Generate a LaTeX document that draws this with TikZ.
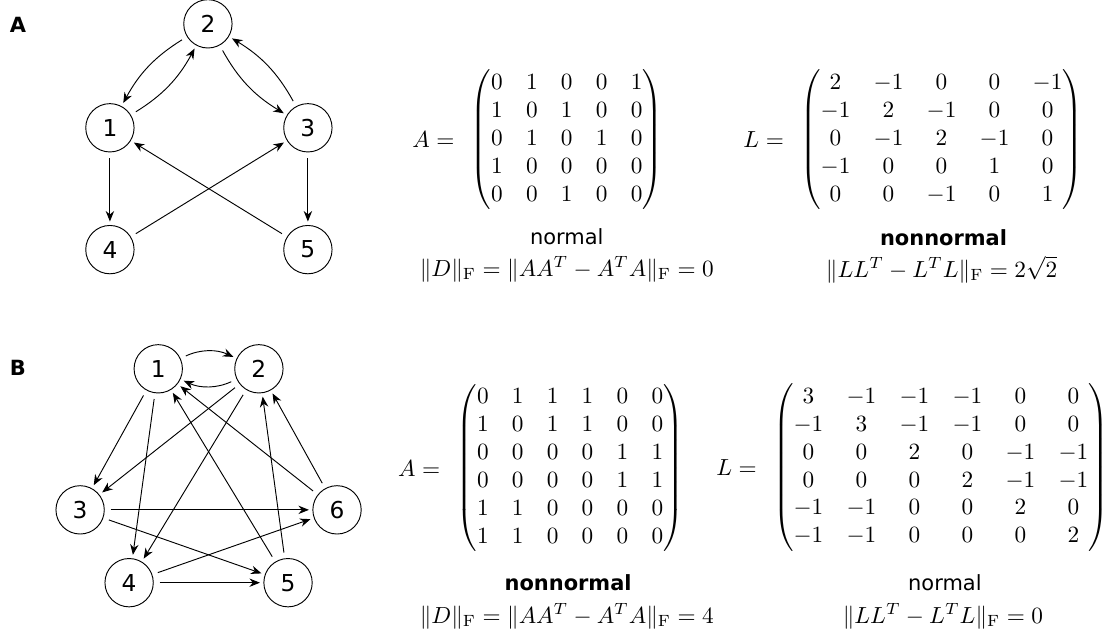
\documentclass[tikz,border=0pt]{standalone}
\usepackage{fontspec}
\usepackage{amsmath}
\newfontfamily\dejavu{DejaVu Sans}
\usetikzlibrary{positioning,arrows.meta}

\begin{document}
\begin{tikzpicture}[
  every node/.style={font=\dejavu},
  vertex/.style={draw, circle, minimum size=0.73cm, inner sep=0pt},
  arrow/.style={-{Stealth[length=4.5pt,width=3.6pt]}, shorten <=2.5pt, shorten >=1.5pt},
  panel/.style={font=\dejavu\bfseries\fontsize{9}{11}\selectfont},
  caption/.style={font=\dejavu\fontsize{9}{11}\selectfont},
  boldcaption/.style={font=\dejavu\bfseries\fontsize{9}{11}\selectfont}
]
\useasboundingbox (0,0) rectangle (16.9,9.57);

% panel A: graph
\node[panel] (labA) at (0.27,9.20) {A};
\node[vertex] (a1) at (1.66,7.64) {1};
\node[vertex] (a2) at (3.14,9.21) {2};
\node[vertex] (a3) at (4.65,7.64) {3};
\node[vertex] (a4) at (1.66,5.80) {4};
\node[vertex] (a5) at (4.65,5.80) {5};
\draw[arrow] (a2) to[bend right=15] (a1);
\draw[arrow] (a1) to[bend right=15] (a2);
\draw[arrow] (a2) to[bend right=15] (a3);
\draw[arrow] (a3) to[bend right=15] (a2);
\draw[arrow] (a1) -- (a4);
\draw[arrow] (a3) -- (a5);
\draw[arrow] (a4) -- (a3);
\draw[arrow] (a5) -- (a1);

% panel A: matrices
\node (adjA) at (8.56,7.46) {$\begin{pmatrix}
0&1&0&0&1\\ 1&0&1&0&0\\ 0&1&0&1&0\\ 1&0&0&0&0\\ 0&0&1&0&0
\end{pmatrix}$};
\node[left=0pt of adjA] (adjAeq) {$A =$};
\node[caption] (adjAnote) at (8.56,5.99) {normal};
\node (adjAnorm) at (8.56,5.50) {$\|D\|_{\mathrm{F}} = \|AA^T - A^TA\|_{\mathrm{F}} = 0$};

\node (lapA) at (14.22,7.46) {$\begin{pmatrix}
2&-1&0&0&-1\\ -1&2&-1&0&0\\ 0&-1&2&-1&0\\ -1&0&0&1&0\\ 0&0&-1&0&1
\end{pmatrix}$};
\node[left=0pt of lapA] (lapAeq) {$L =$};
\node[boldcaption] (lapAnote) at (14.25,5.98) {nonnormal};
\node (lapAnorm) at (14.22,5.50) {$\|LL^T - L^TL\|_{\mathrm{F}} = 2\sqrt{2}$};

% panel B: graph
\node[panel] (labB) at (0.27,4.02) {B};
\node[vertex] (b1) at (2.39,4.00) {1};
\node[vertex] (b2) at (3.91,4.00) {2};
\node[vertex] (b3) at (1.21,1.87) {3};
\node[vertex] (b4) at (1.95,0.77) {4};
\node[vertex] (b5) at (4.35,0.77) {5};
\node[vertex] (b6) at (5.09,1.87) {6};
\draw[arrow] (b1) to[bend left=25] (b2);
\draw[arrow] (b2) to[bend left=25] (b1);
\draw[arrow] (b1) -- (b3);
\draw[arrow] (b1) -- (b4);
\draw[arrow] (b2) -- (b3);
\draw[arrow] (b2) -- (b4);
\draw[arrow] (b3) -- (b5);
\draw[arrow] (b3) -- (b6);
\draw[arrow] (b4) -- (b5);
\draw[arrow] (b4) -- (b6);
\draw[arrow] (b5) -- (b1);
\draw[arrow] (b5) -- (b2);
\draw[arrow] (b6) -- (b1);
\draw[arrow] (b6) -- (b2);

% panel B: matrices
\node (adjB) at (8.61,2.50) {$\begin{pmatrix}
0&1&1&1&0&0\\ 1&0&1&1&0&0\\ 0&0&0&0&1&1\\ 0&0&0&0&1&1\\ 1&1&0&0&0&0\\ 1&1&0&0&0&0
\end{pmatrix}$};
\node[left=0pt of adjB] (adjBeq) {$A =$};
\node[boldcaption] (adjBnote) at (8.58,0.77) {nonnormal};
\node (adjBnorm) at (8.56,0.26) {$\|D\|_{\mathrm{F}} = \|AA^T - A^TA\|_{\mathrm{F}} = 4$};

\node (lapB) at (14.21,2.51) {$\begin{pmatrix}
3&-1&-1&-1&0&0\\ -1&3&-1&-1&0&0\\ 0&0&2&0&-1&-1\\ 0&0&0&2&-1&-1\\ -1&-1&0&0&2&0\\ -1&-1&0&0&0&2
\end{pmatrix}$};
\node[left=0pt of lapB] (lapBeq) {$L =$};
\node[caption] (lapBnote) at (14.27,0.77) {normal};
\node (lapBnorm) at (14.24,0.26) {$\|LL^T - L^TL\|_{\mathrm{F}} = 0$};
\end{tikzpicture}
\end{document}
